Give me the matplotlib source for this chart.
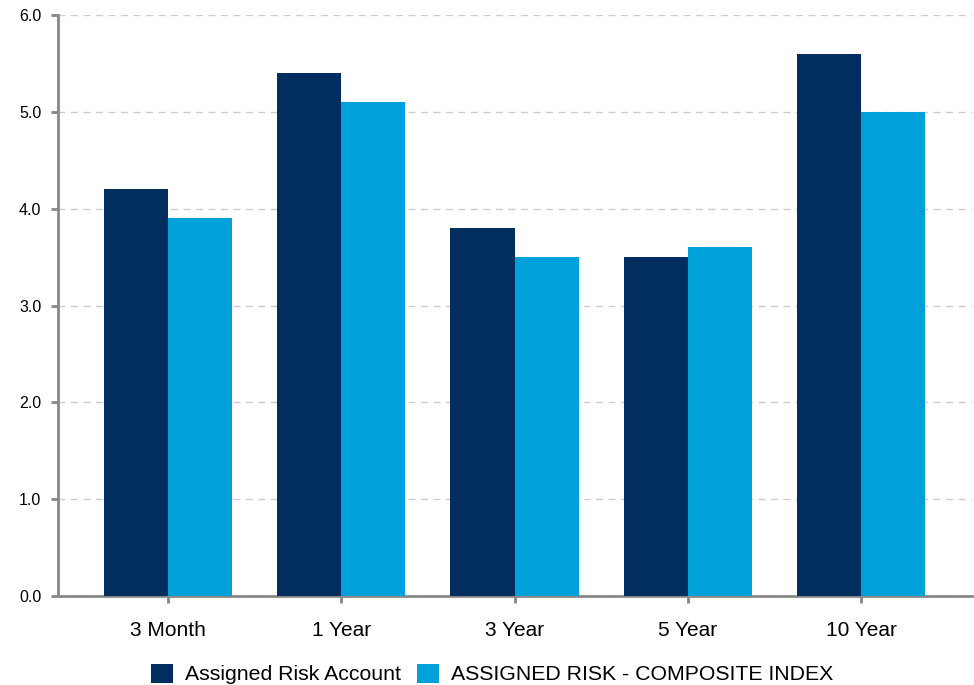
import matplotlib
matplotlib.use("Agg")
import matplotlib.pyplot as plt
import numpy as np

categories = ["3 Month", "1 Year", "3 Year", "5 Year", "10 Year"]
account = [4.2, 5.4, 3.8, 3.5, 5.6]
index_vals = [3.9, 5.1, 3.5, 3.6, 5.0]
series_names = ["Assigned Risk Account", "ASSIGNED RISK - COMPOSITE INDEX"]
yticks = [0.0, 1.0, 2.0, 3.0, 4.0, 5.0, 6.0]

plt.rcParams["font.family"] = ["Liberation Sans", "DejaVu Sans"]

fig = plt.figure(figsize=(9.74, 6.85), dpi=100)
ax = fig.add_axes([58 / 974, 1 - 596 / 685, (972 - 58) / 974, (596 - 15) / 685])

x = np.arange(len(categories))
w = 0.37
dark = "#012e5f"
light = "#00a0da"
ax.bar(x - w / 2, account, width=w, color=dark, label=series_names[0], zorder=3)
ax.bar(x + w / 2, index_vals, width=w, color=light, label=series_names[1], zorder=3)

ax.set_xlim(-0.635, 4.64)
ax.set_ylim(0, 6.0)
ax.set_yticks(yticks)
ax.set_yticklabels([f"{v:.1f}" for v in yticks], fontsize=11.5)
ax.set_xticks(x)
ax.set_xticklabels(categories, fontsize=15)

ax.grid(axis="y", linestyle=(0, (5, 4)), color="#cccccc", linewidth=1, zorder=0)
for s in ["top", "right"]:
    ax.spines[s].set_visible(False)
for s in ["left", "bottom"]:
    ax.spines[s].set_color("#888888")
    ax.spines[s].set_linewidth(2)
ax.tick_params(axis="y", length=5, width=2, color="#888888", pad=7)
ax.tick_params(axis="x", length=5, width=2, color="#888888", pad=13)

fig.legend(loc="center", ncol=2, frameon=False, fontsize=15.3,
           handlelength=1.05, handleheight=1.0, handletextpad=0.55,
           columnspacing=0.75, bbox_to_anchor=(0.505, 1 - 674 / 685))

fig.savefig("out.png", dpi=100, facecolor="white")
